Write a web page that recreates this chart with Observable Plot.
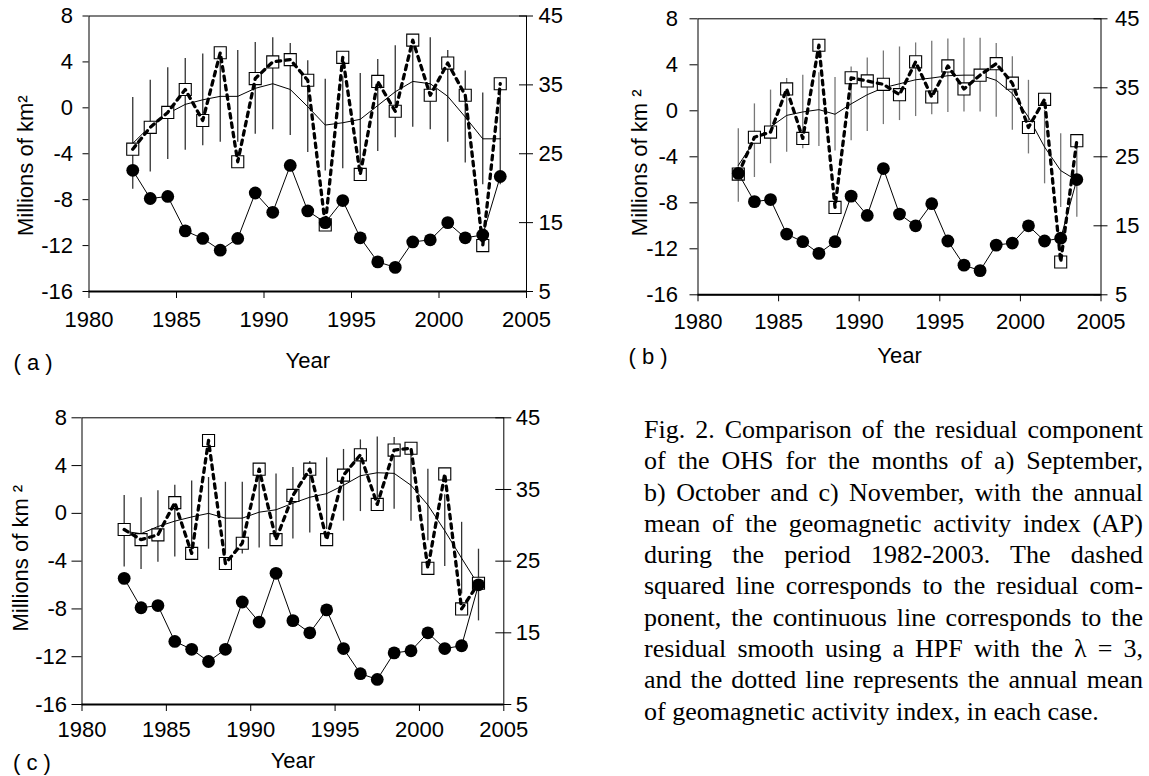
<!DOCTYPE html>
<html><head><meta charset="utf-8">
<script src="https://cdn.jsdelivr.net/npm/d3@7"></script>
<script src="https://cdn.jsdelivr.net/npm/@observablehq/plot@0.6"></script>
<style>
body{margin:0;background:#fff;}
#root{position:relative;width:1149px;height:776px;overflow:hidden;background:#fff;}
.panel{position:absolute;}
#caption{position:absolute;left:644px;top:414px;width:499px;font-family:"Liberation Serif","Times New Roman",serif;font-size:26px;line-height:31.3px;color:#000;}
#caption div{text-align:justify;text-align-last:justify;}
#caption div.last{text-align-last:left;}
</style></head>
<body>
<div id="root">
  <div class="panel" id="pa" style="left:0;top:0"></div>
  <div class="panel" id="pb" style="left:580px;top:0"></div>
  <div class="panel" id="pc" style="left:0;top:390px"></div>
  <div id="caption"></div>
</div>
<script>
// ---- data ----
const years = [1982.5,1983.5,1984.5,1985.5,1986.5,1987.5,1988.5,1989.5,1990.5,1991.5,1992.5,1993.5,1994.5,1995.5,1996.5,1997.5,1998.5,1999.5,2000.5,2001.5,2002.5,2003.5];
// annual mean geomagnetic activity index (right axis)
const apIndex = [22.6,18.5,18.8,13.8,12.7,11.0,12.7,19.3,16.5,23.3,16.7,15.0,18.2,12.8,9.3,8.5,12.2,12.5,15.0,12.8,13.2,21.7];
// (a) September
const residSep  = [-3.6,-1.7,-0.4,1.6,-1.1,4.8,-4.7,2.55,4.0,4.2,2.4,-10.2,4.4,-5.8,2.3,-0.3,5.9,1.1,3.9,1.1,-12.0,2.1];
const smoothSep = [-3.1,-1.6,-0.5,0.3,0.7,1.0,1.0,1.7,2.1,1.6,0.1,-1.5,-1.3,-1.0,0.2,1.4,2.3,2.1,1.0,-0.8,-2.7,-2.7];
const errSep = 4.0;
// (b) October
const residOct  = [-5.5,-2.3,-1.85,1.9,-2.4,5.7,-8.4,2.87,2.6,2.3,1.4,4.26,1.2,3.9,1.9,3.1,4.1,2.4,-1.45,1.0,-13.15,-2.6];
const smoothOct = [-4.75,-2.6,-1.4,-0.4,-0.1,0.1,-0.3,0.6,1.4,2.0,2.35,2.7,2.85,3.05,3.1,3.1,2.65,1.5,-0.55,-3.15,-5.2,-6.05];
const errOct = 3.2;
// (c) November
const residNov  = [-1.35,-2.2,-1.8,0.9,-3.35,6.1,-4.2,-2.5,3.7,-2.2,1.5,3.7,-2.2,3.2,4.9,0.75,5.3,5.45,-4.6,3.3,-8.0,-5.85];
const smoothNov = [-1.5,-1.7,-1.1,-0.65,-0.3,0.0,-0.4,-0.4,0.1,0.3,0.85,1.35,1.65,2.35,3.15,3.4,3.35,2.35,0.7,-1.45,-3.75,-6.0];
const errNov = 3.0;
// ticks
const xTicks = [1980,1985,1990,1995,2000,2005];
const yTicks = [-16,-12,-8,-4,0,4,8];
const apTicks = [5,15,25,35,45];
const captionLines = [
  "Fig. 2. Comparison of the residual component",
  "of the OHS for the months of a) September,",
  "b) October and c) November, with the annual",
  "mean of the geomagnetic activity index (AP)",
  "during the period 1982-2003. The dashed",
  "squared line corresponds to the residual com-",
  "ponent, the continuous line corresponds to the",
  "residual smooth using a HPF with the \u03BB = 3,",
  "and the dotted line represents the annual mean",
  "of geomagnetic activity index, in each case."
];

// right axis (AP 5..45) shares the frame with left axis (-16..8)
const toL = ap => -16 + (ap - 5) * 24 / 40;
const fromL = v => 5 + (v + 16) * 40 / 24;

function panel(o) {
  const data = years.map((x, i) => ({
    x, r: o.resid[i], s: o.smooth[i],
    lo: o.smooth[i] - o.err, hi: o.smooth[i] + o.err,
    ap: toL(apIndex[i])
  }));
  return Plot.plot({
    width: o.width, height: o.height,
    marginLeft: o.m[0], marginRight: o.m[1], marginTop: o.m[2], marginBottom: o.m[3],
    style: {fontFamily: "'Liberation Sans', Arial, sans-serif", fontSize: "22px", background: "transparent", color: "#000", overflow: "visible"},
    x: {domain: [1980, 2005]},
    y: {domain: [-16, 8]},
    marks: [
      Plot.ruleX(data, {x: "x", y1: "lo", y2: "hi", stroke: o.barColor, strokeWidth: 1.3}),
      Plot.line(data, {x: "x", y: "s", stroke: "#000", strokeWidth: 1}),
      Plot.dot(data, {x: "x", y: "r", symbol: "square", r: 6.8, fill: "#fff", stroke: "#000", strokeWidth: 1.1}),
      Plot.line(data, {x: "x", y: "r", stroke: "#000", strokeWidth: 3.3, strokeDasharray: "4.5,5"}),
      Plot.line(data, {x: "x", y: "ap", stroke: "#000", strokeWidth: 1}),
      Plot.dot(data, {x: "x", y: "ap", r: 6.4, fill: "#000", stroke: "none"}),
      Plot.frame({stroke: "#000", strokeWidth: 1}),
      Plot.ruleY([-16], {stroke: "#000", strokeWidth: 2}),
      Plot.axisX({ticks: xTicks, tickFormat: d => String(d), tickSize: 7, tickPadding: o.xPad, label: null}),
      Plot.axisY({anchor: "left", ticks: yTicks, tickFormat: d => String(d), tickSize: o.lTick, tickPadding: o.yPad, label: null}),
      Plot.axisY({anchor: "right", ticks: apTicks.map(toL), tickFormat: d => String(Math.round(fromL(d))), tickSize: 0, tickPadding: o.rPad, label: null}),
      Plot.ruleY(apTicks.map(toL), {x1: 2005, x2: 2005, insetLeft: -o.rTick, insetRight: -o.rTick, stroke: "#000", strokeWidth: 1}),
      Plot.text([o.yLabel], {text: d => d, frameAnchor: "left", rotate: -90, textAnchor: "middle", lineAnchor: "middle", dx: o.ylDx, dy: o.ylDy, fontSize: 22}),
      Plot.text(["Year"], {text: d => d, frameAnchor: "bottom", textAnchor: "middle", lineAnchor: "middle", dy: o.yearDy, fontSize: 22}),
      Plot.text([o.tag], {text: d => d, frameAnchor: "bottom-left", textAnchor: "start", lineAnchor: "middle", dx: o.tagDx, dy: o.tagDy, fontSize: 22})
    ]
  });
}

document.getElementById("pa").append(panel({
  resid: residSep, smooth: smoothSep, err: errSep, barColor: "#333",
  width: 560, height: 380, m: [88.5, 34, 15.5, 89],
  xPad: 13, yPad: 10, lTick: 6, rPad: 12, rTick: 7,
  yLabel: "Millions of km\u00B2", ylDx: -63, ylDy: 12,
  yearDy: 69, tag: "( a )", tagDx: -75.5, tagDy: 71
}));
document.getElementById("pb").append(panel({
  resid: residOct, smooth: smoothOct, err: errOct, barColor: "#777",
  width: 569, height: 380, m: [117.5, 48.5, 18.3, 85.7],
  xPad: 12, yPad: 12, lTick: 8, rPad: 14, rTick: 7,
  yLabel: "Millions of km \u00B2", ylDx: -58.5, ylDy: 6,
  yearDy: 61, tag: "( b )", tagDx: -69.5, tagDy: 62
}));
document.getElementById("pc").append(panel({
  resid: residNov, smooth: smoothNov, err: errNov, barColor: "#333",
  width: 560, height: 386, m: [81.5, 56.7, 27.3, 72],
  xPad: 10, yPad: 5, lTick: 10, rPad: 12, rTick: 8,
  yLabel: "Millions of km \u00B2", ylDx: -61, ylDy: -3,
  yearDy: 56, tag: "( c )", tagDx: -69, tagDy: 58
}));

const cap = document.getElementById("caption");
captionLines.forEach((t, i) => {
  const d = document.createElement("div");
  d.textContent = t;
  if (i === captionLines.length - 1) d.className = "last";
  cap.append(d);
});
</script>
</body></html>
